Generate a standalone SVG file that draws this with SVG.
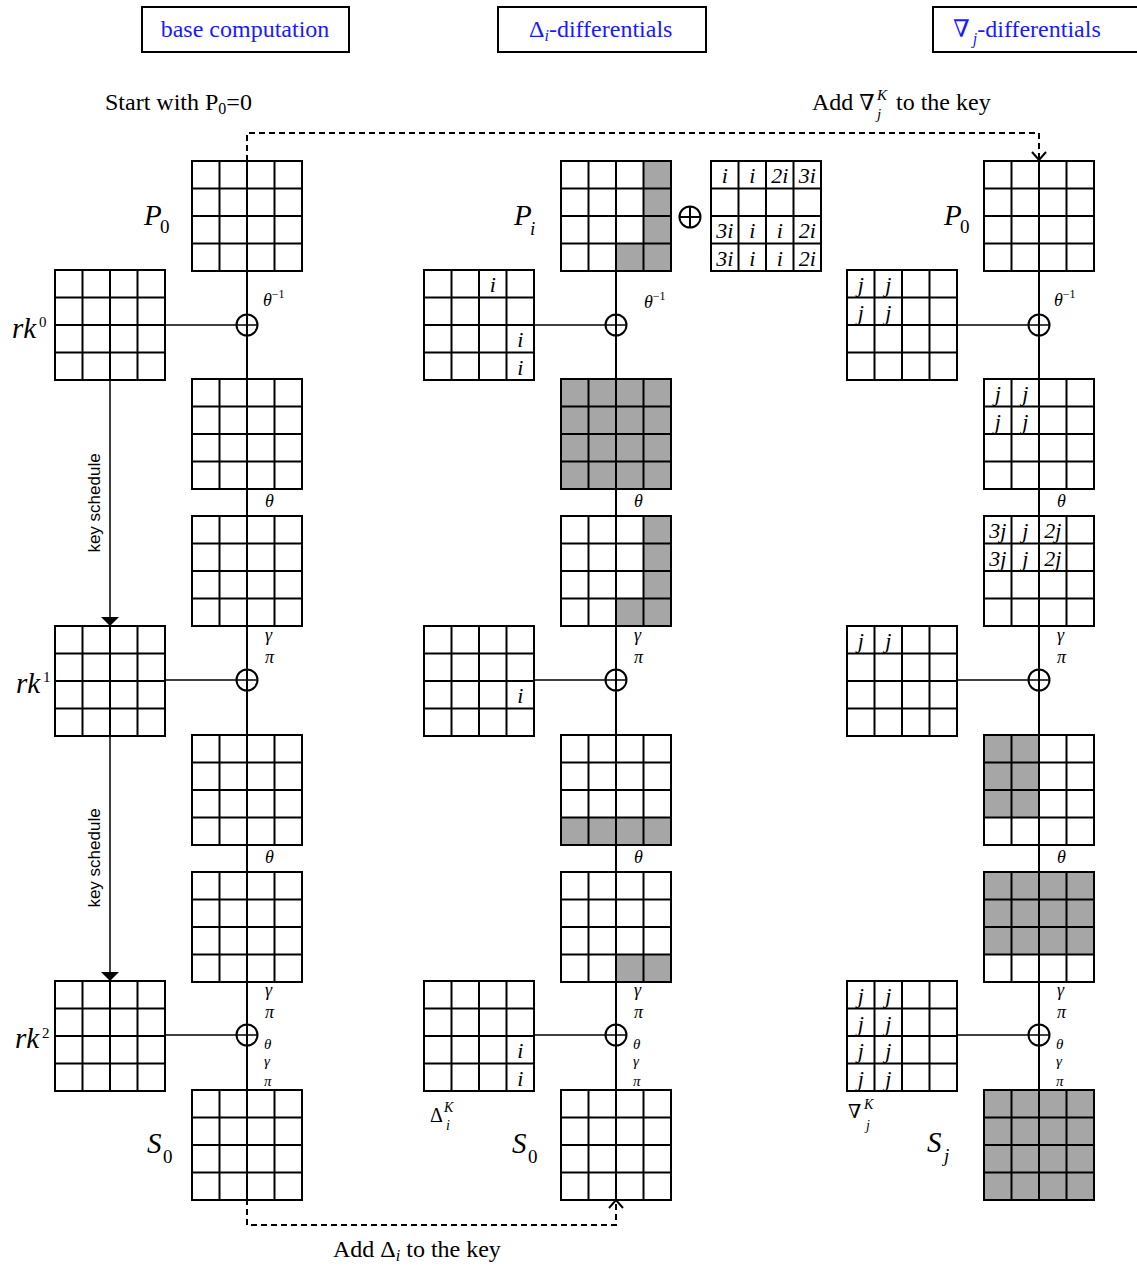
<svg xmlns="http://www.w3.org/2000/svg" xmlns:xlink="http://www.w3.org/1999/xlink" width="1137" height="1270" viewBox="0 0 1137 1270">
<style>
.grid line,.grid rect{stroke:#000;stroke-width:2;fill:none}
.sh{fill:#a6a6a6;stroke:none}
.hd{fill:#fff;stroke:#000;stroke-width:2}
.ht{font-family:"Liberation Serif",serif;font-size:24px;fill:#1a1aff}
.tx{font-family:"Liberation Serif",serif;font-size:24px;fill:#000}
.up{font-family:"Liberation Serif",serif;fill:#000}
.it{font-family:"Liberation Serif",serif;font-style:italic;fill:#000}
.big{font-size:29px}
.sub{font-size:19px}
.sup{font-size:15px}
.c{font-family:"Liberation Serif",serif;font-style:italic;font-size:22px;text-anchor:middle;fill:#000}
.g{font-family:"Liberation Serif",serif;font-style:italic;font-size:18px;fill:#000}
.g2{font-family:"Liberation Serif",serif;font-style:italic;font-size:15px;fill:#000}
.ln{stroke:#000;stroke-width:2;fill:none}
.hl{stroke:#000;stroke-width:1.5;fill:none}
.ds{stroke:#000;stroke-width:2;fill:none;stroke-dasharray:6 4}
.ks{font-family:"Liberation Sans",sans-serif;font-size:17px;text-anchor:middle;fill:#000}
</style>
<defs>
<g id="g4" class="grid">
<rect x="0" y="0" width="110" height="110"/>
<line x1="27.5" y1="0" x2="27.5" y2="110"/><line x1="55" y1="0" x2="55" y2="110"/><line x1="82.5" y1="0" x2="82.5" y2="110"/>
<line x1="0" y1="27.5" x2="110" y2="27.5"/><line x1="0" y1="55" x2="110" y2="55"/><line x1="0" y1="82.5" x2="110" y2="82.5"/>
</g>
<marker id="tri" markerWidth="10" markerHeight="18" refX="9" refY="9" orient="auto" markerUnits="userSpaceOnUse"><path d="M0,0 L9,9 L0,18 Z" fill="#000"/></marker>
</defs>

<!-- headings -->
<g id="head-base"><rect class="hd" x="142" y="7" width="207" height="45"/><text class="ht" x="245" y="37" text-anchor="middle">base computation</text></g>
<g id="head-delta"><rect class="hd" x="498" y="7" width="208" height="45"/><text class="ht" x="529" y="37">Δ<tspan font-style="italic" font-size="16" dy="4">i</tspan><tspan dy="-4">-differentials</tspan></text></g>
<g id="head-nabla"><rect class="hd" x="933" y="7" width="210" height="45"/><text class="ht" x="953" y="37"><tspan font-family="DejaVu Serif">∇</tspan><tspan font-style="italic" font-size="16" dx="3" dy="7">j</tspan><tspan dy="-7">-differentials</tspan></text></g>

<!-- top/bottom labels -->
<text class="tx" x="105" y="110">Start with P<tspan font-size="16" dy="4">0</tspan><tspan dy="-4">=0</tspan></text>
<text class="tx" x="812" y="110">Add <tspan font-family="DejaVu Serif" font-size="22">∇</tspan></text>
<text class="it" x="877" y="100" font-size="15">K</text>
<text class="it" x="877" y="119" font-size="15">j</text>
<text class="tx" x="896" y="110">to the key</text>
<text class="tx" x="333" y="1257">Add Δ<tspan font-style="italic" font-size="16" dy="4">i</tspan><tspan dy="-4"> to the key</tspan></text>

<!-- connectors -->
<g id="connectors">
<line class="ln" x1="247" y1="161" x2="247" y2="1199"/>
<line class="ln" x1="616" y1="161" x2="616" y2="1199"/>
<line class="ln" x1="1039" y1="161" x2="1039" y2="1199"/>
<path class="ds" d="M247,161 V133 H1039 V160"/>
<path class="ln" d="M1032,152 L1039,160 L1046,152"/>
<path class="ds" d="M247,1199 V1225 H616 V1201"/>
<path class="ln" d="M609,1208 L616,1200 L623,1208"/>
<line class="hl" x1="165" y1="325" x2="257.5" y2="325"/>
<line class="hl" x1="165" y1="680" x2="257.5" y2="680"/>
<line class="hl" x1="165" y1="1035" x2="257.5" y2="1035"/>
<line class="hl" x1="534" y1="325" x2="626.5" y2="325"/>
<line class="hl" x1="534" y1="680" x2="626.5" y2="680"/>
<line class="hl" x1="534" y1="1035" x2="626.5" y2="1035"/>
<line class="hl" x1="957" y1="325" x2="1049.5" y2="325"/>
<line class="hl" x1="957" y1="680" x2="1049.5" y2="680"/>
<line class="hl" x1="957" y1="1035" x2="1049.5" y2="1035"/>
<line class="hl" x1="110" y1="380" x2="110" y2="626" marker-end="url(#tri)"/>
<line class="hl" x1="110" y1="736" x2="110" y2="981" marker-end="url(#tri)"/>
<text class="ks" transform="translate(100,503) rotate(-90)">key schedule</text>
<text class="ks" transform="translate(100,858) rotate(-90)">key schedule</text>
</g>

<!-- xor nodes -->
<g id="xor-nodes" class="ln">
<circle cx="247" cy="325" r="10.5"/><circle cx="247" cy="680" r="10.5"/><circle cx="247" cy="1035" r="10.5"/>
<circle cx="616" cy="325" r="10.5"/><circle cx="616" cy="680" r="10.5"/><circle cx="616" cy="1035" r="10.5"/>
<circle cx="1039" cy="325" r="10.5"/><circle cx="1039" cy="680" r="10.5"/><circle cx="1039" cy="1035" r="10.5"/>
</g>
<g id="xor-pi" class="ln"><circle cx="690" cy="217" r="10.5"/><line x1="679.5" y1="217" x2="700.5" y2="217"/><line x1="690" y1="206.5" x2="690" y2="227.5"/></g>

<!-- column 1 -->
<g id="c1-p0"><use xlink:href="#g4" x="192" y="161"/><text class="it big" x="144" y="225">P</text><text class="up sub" x="160" y="233">0</text></g>
<g id="c1-rk0"><use xlink:href="#g4" x="55" y="270"/><text class="it big" x="12" y="338">rk</text><text class="up sup" x="39" y="327">0</text></g>
<g id="c1-s1"><use xlink:href="#g4" x="192" y="379"/></g>
<g id="c1-s2"><use xlink:href="#g4" x="192" y="516"/></g>
<g id="c1-rk1"><use xlink:href="#g4" x="55" y="626"/><text class="it big" x="16" y="693">rk</text><text class="up sup" x="43" y="682">1</text></g>
<g id="c1-s3"><use xlink:href="#g4" x="192" y="735"/></g>
<g id="c1-s4"><use xlink:href="#g4" x="192" y="872"/></g>
<g id="c1-rk2"><use xlink:href="#g4" x="55" y="981"/><text class="it big" x="15" y="1048">rk</text><text class="up sup" x="42" y="1038">2</text></g>
<g id="c1-s0"><use xlink:href="#g4" x="192" y="1090"/><text class="it big" x="147" y="1153">S</text><text class="up sub" x="163" y="1163">0</text></g>

<!-- column 2 -->
<g id="c2-pi"><rect class="sh" x="643.5" y="161" width="27.5" height="110"/><rect class="sh" x="616" y="243.5" width="27.5" height="27.5"/><use xlink:href="#g4" x="561" y="161"/><text class="it big" x="514" y="225">P</text><text class="it sub" x="530" y="235">i</text></g>
<g id="c2-add"><use xlink:href="#g4" x="711" y="161"/>
<text class="c" x="724.75" y="183">i</text><text class="c" x="752.25" y="183">i</text><text class="c" x="779.75" y="183">2i</text><text class="c" x="807.25" y="183">3i</text>
<text class="c" x="724.75" y="238">3i</text><text class="c" x="752.25" y="238">i</text><text class="c" x="779.75" y="238">i</text><text class="c" x="807.25" y="238">2i</text>
<text class="c" x="724.75" y="265.5">3i</text><text class="c" x="752.25" y="265.5">i</text><text class="c" x="779.75" y="265.5">i</text><text class="c" x="807.25" y="265.5">2i</text></g>
<g id="c2-k0"><use xlink:href="#g4" x="424" y="270"/><text class="c" x="492.75" y="292">i</text><text class="c" x="520.25" y="347">i</text><text class="c" x="520.25" y="374.5">i</text></g>
<g id="c2-s1"><rect class="sh" x="561" y="379" width="110" height="110"/><use xlink:href="#g4" x="561" y="379"/></g>
<g id="c2-s2"><rect class="sh" x="643.5" y="516" width="27.5" height="110"/><rect class="sh" x="616" y="598.5" width="27.5" height="27.5"/><use xlink:href="#g4" x="561" y="516"/></g>
<g id="c2-k1"><use xlink:href="#g4" x="424" y="626"/><text class="c" x="520.25" y="703">i</text></g>
<g id="c2-s3"><rect class="sh" x="561" y="817.5" width="110" height="27.5"/><use xlink:href="#g4" x="561" y="735"/></g>
<g id="c2-s4"><rect class="sh" x="616" y="954.5" width="55" height="27.5"/><use xlink:href="#g4" x="561" y="872"/></g>
<g id="c2-k2"><use xlink:href="#g4" x="424" y="981"/><text class="c" x="520.25" y="1058">i</text><text class="c" x="520.25" y="1085.5">i</text>
<text class="up" style="font-size:20px" x="430" y="1122">Δ</text><text class="it" font-size="14" x="444" y="1112">K</text><text class="it" font-size="14" x="446" y="1130">i</text></g>
<g id="c2-s0"><use xlink:href="#g4" x="561" y="1090"/><text class="it big" x="512" y="1153">S</text><text class="up sub" x="528" y="1163">0</text></g>

<!-- column 3 -->
<g id="c3-p0"><use xlink:href="#g4" x="984" y="161"/><text class="it big" x="944" y="225">P</text><text class="up sub" x="960" y="233">0</text></g>
<g id="c3-k0"><use xlink:href="#g4" x="847" y="270"/><text class="c" x="860.75" y="292">j</text><text class="c" x="888.25" y="292">j</text><text class="c" x="860.75" y="319.5">j</text><text class="c" x="888.25" y="319.5">j</text></g>
<g id="c3-s1"><use xlink:href="#g4" x="984" y="379"/><text class="c" x="997.75" y="401">j</text><text class="c" x="1025.25" y="401">j</text><text class="c" x="997.75" y="428.5">j</text><text class="c" x="1025.25" y="428.5">j</text></g>
<g id="c3-s2"><use xlink:href="#g4" x="984" y="516"/><text class="c" x="997.75" y="538">3j</text><text class="c" x="1025.25" y="538">j</text><text class="c" x="1052.75" y="538">2j</text><text class="c" x="997.75" y="565.5">3j</text><text class="c" x="1025.25" y="565.5">j</text><text class="c" x="1052.75" y="565.5">2j</text></g>
<g id="c3-k1"><use xlink:href="#g4" x="847" y="626"/><text class="c" x="860.75" y="648">j</text><text class="c" x="888.25" y="648">j</text></g>
<g id="c3-s3"><rect class="sh" x="984" y="735" width="55" height="82.5"/><use xlink:href="#g4" x="984" y="735"/></g>
<g id="c3-s4"><rect class="sh" x="984" y="872" width="110" height="82.5"/><use xlink:href="#g4" x="984" y="872"/></g>
<g id="c3-k2"><use xlink:href="#g4" x="847" y="981"/>
<text class="c" x="860.75" y="1003">j</text><text class="c" x="888.25" y="1003">j</text><text class="c" x="860.75" y="1030.5">j</text><text class="c" x="888.25" y="1030.5">j</text>
<text class="c" x="860.75" y="1058">j</text><text class="c" x="888.25" y="1058">j</text><text class="c" x="860.75" y="1085.5">j</text><text class="c" x="888.25" y="1085.5">j</text>
<text class="up" style="font-size:19px;font-family:'DejaVu Serif',serif" x="848" y="1118">∇</text><text class="it" font-size="14" x="864" y="1109">K</text><text class="it" font-size="14" x="866" y="1130">j</text></g>
<g id="c3-sj"><rect class="sh" x="984" y="1090" width="110" height="110"/><use xlink:href="#g4" x="984" y="1090"/><text class="it big" x="927" y="1152">S</text><text class="it sub" x="944" y="1162">j</text></g>

<!-- operation labels -->
<g id="ops">
<text class="g" x="263" y="306">θ<tspan font-style="normal" font-size="12" dy="-8">−1</tspan></text>
<text class="g" x="644" y="308">θ<tspan font-style="normal" font-size="12" dy="-8">−1</tspan></text>
<text class="g" x="1054" y="306">θ<tspan font-style="normal" font-size="12" dy="-8">−1</tspan></text>
<text class="g" x="265" y="507">θ</text><text class="g" x="634" y="507">θ</text><text class="g" x="1057" y="507">θ</text>
<text class="g" x="265" y="641">γ</text><text class="g" x="265" y="663">π</text>
<text class="g" x="634" y="641">γ</text><text class="g" x="634" y="663">π</text>
<text class="g" x="1057" y="641">γ</text><text class="g" x="1057" y="663">π</text>
<text class="g" x="265" y="863">θ</text><text class="g" x="634" y="863">θ</text><text class="g" x="1057" y="863">θ</text>
<text class="g" x="265" y="996">γ</text><text class="g" x="265" y="1018">π</text>
<text class="g" x="634" y="996">γ</text><text class="g" x="634" y="1018">π</text>
<text class="g" x="1057" y="996">γ</text><text class="g" x="1057" y="1018">π</text>
<text class="g2" x="264" y="1049">θ</text><text class="g2" x="264" y="1066">γ</text><text class="g2" x="264" y="1086">π</text>
<text class="g2" x="633" y="1049">θ</text><text class="g2" x="633" y="1066">γ</text><text class="g2" x="633" y="1086">π</text>
<text class="g2" x="1056" y="1049">θ</text><text class="g2" x="1056" y="1066">γ</text><text class="g2" x="1056" y="1086">π</text>
</g>
</svg>
